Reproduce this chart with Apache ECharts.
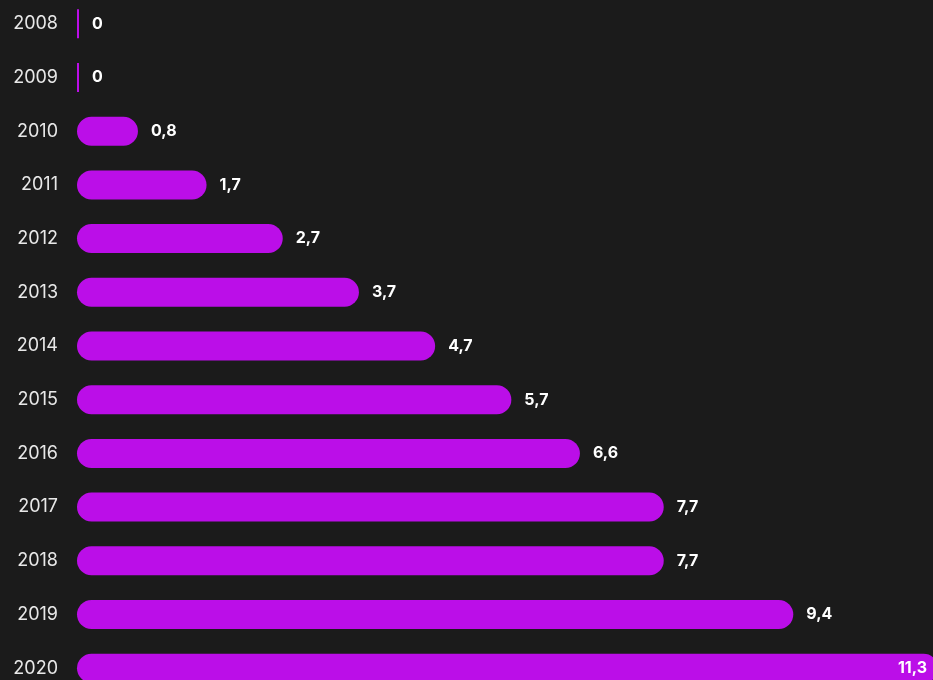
<!DOCTYPE html>
<html><head><meta charset="utf-8">
<style>html,body{margin:0;padding:0;background:#1b1b1b;}#c{width:933px;height:680px;}</style>
<script src="https://cdn.jsdelivr.net/npm/echarts@6/dist/echarts.min.js"></script>
</head><body><div id="c"></div>
<script>
const years = ['2008','2009','2010','2011','2012','2013','2014','2015','2016','2017','2018','2019','2020'];
const values = [0, 0, 0.8, 1.7, 2.7, 3.7, 4.7, 5.7, 6.6, 7.7, 7.7, 9.4, 11.3];

const chart = echarts.init(document.getElementById('c'));
const data = values.map((v, i) => {
  const item = { value: v };
  if (v === 0) item.itemStyle = { borderRadius: 0 };
  if (i === values.length - 1) item.label = { position: 'insideRight', distance: 11 };
  return item;
});
chart.setOption({
  backgroundColor: '#1b1b1b',
  animation: false,
  grid: { left: 77, top: -3, right: 94, bottom: -15, outerBoundsMode: 'none' },
  xAxis: { type: 'value', min: 0, max: 10, show: false },
  yAxis: {
    type: 'category', data: years, inverse: true,
    axisLine: { show: false }, axisTick: { show: false },
    axisLabel: { color: '#e8e8e8', fontSize: 18, fontFamily: 'Inter', margin: 19 }
  },
  series: [{
    type: 'bar', data: data, barWidth: 29, barMinHeight: 2, clip: false,
    itemStyle: { color: '#bb0ee8', borderRadius: 15 },
    label: {
      show: true, position: 'right', distance: 13,
      color: '#ffffff', fontSize: 16, fontWeight: 'bold', fontFamily: 'Inter',
      formatter: p => String(p.value).replace('.', ',')
    }
  }]
});
</script></body></html>
